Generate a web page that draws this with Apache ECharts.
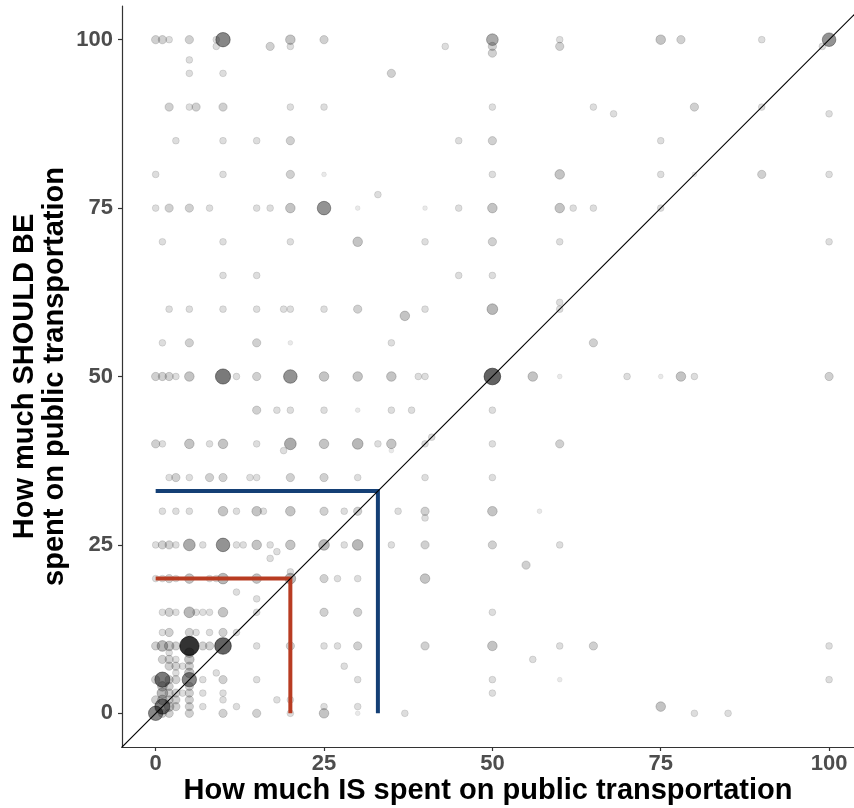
<!DOCTYPE html>
<html>
<head>
<meta charset="utf-8">
<script src="https://cdn.jsdelivr.net/npm/echarts@6/dist/echarts.min.js"></script>
<style>
  html, body { margin: 0; padding: 0; background: #fff; }
  #chart { width: 854px; height: 808px; }
</style>
</head>
<body>
<div id="chart"></div>
<script>
// Answers: how much IS spent (x) vs how much SHOULD BE spent (y) on public transportation,
// with the number of respondents giving each pair.
const isSpent = [
  0,1,2,5,9,10,20,25,50,60,75,78,90,100,
  9,17,20,43,50,60,99,
  50,5,5,10,35,
  2,5,6,10,20,25,50,65,80,90,
  68,100,
  3,10,15,20,45,50,75,
  0,10,20,25,50,60,75,80,90,100,
  33,
  0,2,5,8,15,17,20,25,30,40,45,50,60,62,65,75,
  1,10,20,30,40,50,60,100,
  10,15,45,50,
  60,
  2,5,10,15,19,20,25,30,40,50,60,
  37,
  1,5,15,20,35,65,
  0,1,2,3,5,10,12,15,20,25,30,35,39,40,50,56,60,70,75,78,80,100,
  15,18,20,25,30,35,38,50,
  41,
  0,1,5,8,10,15,20,25,30,33,35,40,50,60,
  19,35,
  2,3,5,8,10,14,15,20,25,30,40,50,
  1,3,5,10,12,15,16,20,25,28,30,36,40,50,57,
  40,
  0,1,2,3,5,7,10,12,13,15,17,20,25,28,30,35,40,50,60,
  18,17,55,
  20,
  0,1,2,3,5,8,9,10,15,20,25,27,30,40,
  12,15,
  1,2,3,5,6,7,8,10,15,25,30,50,
  1,2,5,6,8,10,12,
  0,1,2,3,5,7,8,10,15,20,25,27,30,40,50,60,65,100,
  2,5,
  1,2,3,5,56,
  2,3,4,5,28,
  3,5,9,
  0,1,2,3,5,7,10,15,30,50,60,100,
  1,2,5,
  1,2,3,4,5,7,10,50,
  0,1,2,3,5,10,18,20,
  1,2,3,5,7,12,25,30,75,
  0,1,2,5,10,15,20,25,30,37,80,85
];
const shouldBe = [
  100,100,100,100,100,100,100,100,100,100,100,100,100,100,
  99,99,99,99,99,99,99,
  98,97,95,95,95,
  90,90,90,90,90,90,90,90,90,90,
  89,89,
  85,85,85,85,85,85,85,
  80,80,80,80,80,80,80,80,80,80,
  77,
  75,75,75,75,75,75,75,75,75,75,75,75,75,75,75,75,
  70,70,70,70,70,70,70,70,
  65,65,65,65,
  61,
  60,60,60,60,60,60,60,60,60,60,60,
  59,
  55,55,55,55,55,55,
  50,50,50,50,50,50,50,50,50,50,50,50,50,50,50,50,50,50,50,50,50,50,
  45,45,45,45,45,45,45,45,
  41,
  40,40,40,40,40,40,40,40,40,40,40,40,40,40,
  39,39,
  35,35,35,35,35,35,35,35,35,35,35,35,
  30,30,30,30,30,30,30,30,30,30,30,30,30,30,30,
  29,
  25,25,25,25,25,25,25,25,25,25,25,25,25,25,25,25,25,25,25,
  24,23,22,
  21,
  20,20,20,20,20,20,20,20,20,20,20,20,20,20,
  18,17,
  15,15,15,15,15,15,15,15,15,15,15,15,
  12,12,12,12,12,12,12,
  10,10,10,10,10,10,10,10,10,10,10,10,10,10,10,10,10,10,
  9,9,
  8,8,8,8,8,
  7,7,7,7,7,
  6,6,6,
  5,5,5,5,5,5,5,5,5,5,5,5,
  4,4,4,
  3,3,3,3,3,3,3,3,
  2,2,2,2,2,2,2,2,
  1,1,1,1,1,1,1,1,1,
  0,0,0,0,0,0,0,0,0,0,0,0
];
const respondents = [
  3,3,2,3,2,9,4,3,6,2,4,3,2,8,
  2,3,2,2,3,3,2,
  3,2,2,2,3,
  3,2,3,3,2,2,2,2,3,2,
  2,2,
  2,2,2,3,2,3,2,
  2,2,3,1,2,4,2,1,3,2,
  2,
  2,3,3,2,2,2,4,8,1,1,2,4,4,2,2,2,
  2,2,2,4,2,3,2,2,
  2,2,2,2,
  2,
  2,2,2,2,2,2,2,3,2,5,2,
  4,
  2,3,3,1,2,3,
  3,3,3,2,4,10,2,3,8,4,4,4,2,2,12,4,1,2,1,4,2,3,
  3,2,2,2,1,2,2,2,
  2,
  3,2,4,2,4,2,6,4,5,2,4,2,2,3,
  2,1,
  2,3,2,3,3,2,2,3,3,2,2,2,
  2,2,2,4,2,4,2,4,3,2,3,2,3,4,1,
  2,
  2,3,3,2,6,2,8,2,2,4,2,4,5,2,5,2,3,3,2,
  2,2,3,
  2,
  2,2,3,2,4,2,2,5,4,5,3,2,2,4,
  2,2,
  2,3,2,5,2,2,2,4,2,3,3,2,
  2,3,3,2,2,3,2,
  3,5,4,3,16,3,3,12,2,3,2,2,3,3,4,2,3,2,
  2,4,
  3,3,2,4,2,
  3,3,2,3,2,
  2,4,2,
  3,10,3,3,9,2,3,2,2,2,1,2,
  4,3,3,
  5,3,3,2,3,2,2,2,
  3,4,3,3,3,2,2,2,
  10,4,3,3,2,2,2,2,4,
  9,3,3,3,3,3,2,4,1,2,2,2
];

// Reference markers: red at 20/20, blue at 33/33
const redGuide = [20, 20];
const blueGuide = [33, 33];

// Axis ticks and ranges
const tickValues = [0, 25, 50, 75, 100];
const xRange = [-5, 103.7];
const yRange = [-5, 105];

// Overlapping translucent points get darker with more respondents
function alphaFor(n) { return Math.min(1, 0.05 + 0.06 * n); }

const pointData = isSpent.map((x, i) => {
  const n = respondents[i];
  const c = 'rgba(0,0,0,' + alphaFor(n).toFixed(3) + ')';
  return { value: [x, shouldBe[i], n], itemStyle: { color: c, borderColor: c, borderWidth: 0.8 } };
}).sort((a, b) => a.value[2] - b.value[2]);

const guideLine = (g) => [[0, g[1]], [g[0], g[1]], [g[0], 0]];

const chart = echarts.init(document.getElementById('chart'), null, { renderer: 'canvas' });

const labelFont = { fontFamily: 'Liberation Sans', fontWeight: 'bold', fontSize: 22, color: '#4d4d4d' };
const titleFont = { fontFamily: 'Liberation Sans', fontWeight: 'bold', fontSize: 29, color: '#000', lineHeight: 30 };

chart.setOption({
  animation: false,
  backgroundColor: '#fff',
  grid: { left: 122, right: 0, top: 6, bottom: 61, containLabel: false, outerBoundsMode: 'none' },
  xAxis: {
    type: 'value', min: xRange[0], max: xRange[1],
    splitLine: { show: false },
    axisLine: { onZero: false, lineStyle: { color: '#333', width: 1.2 } },
    axisTick: { customValues: tickValues, length: 4, lineStyle: { color: '#333', width: 1.2 } },
    axisLabel: Object.assign({ customValues: tickValues, margin: 6 }, labelFont),
    name: 'How much IS spent on public transportation',
    nameLocation: 'middle', nameGap: 29, nameMoveOverlap: false,
    nameTextStyle: titleFont
  },
  yAxis: {
    type: 'value', min: yRange[0], max: yRange[1],
    splitLine: { show: false },
    axisLine: { onZero: false, lineStyle: { color: '#333', width: 1.2 } },
    axisTick: { customValues: tickValues, length: 4, lineStyle: { color: '#333', width: 1.2 } },
    axisLabel: Object.assign({ customValues: tickValues, margin: 9 }, labelFont),
    name: 'How much SHOULD BE\nspent on public transportation',
    nameLocation: 'middle', nameGap: 52, nameRotate: 90, nameMoveOverlap: false,
    nameTextStyle: titleFont
  },
  series: [
    {
      type: 'scatter',
      data: pointData,
      symbolSize: (v) => 4.8 * Math.sqrt(v[2]),
      z: 2
    },
    {
      type: 'line', data: guideLine(redGuide), symbol: 'none',
      lineStyle: { color: '#b83c22', width: 4, cap: 'butt', join: 'miter' }, z: 3
    },
    {
      type: 'line', data: guideLine(blueGuide), symbol: 'none',
      lineStyle: { color: '#143f75', width: 4, cap: 'butt', join: 'miter' }, z: 3
    },
    {
      type: 'line', data: [[-10, -10], [120, 120]], symbol: 'none', clip: true,
      lineStyle: { color: '#000', width: 1.2 }, z: 4
    }
  ]
});
</script>
</body>
</html>
